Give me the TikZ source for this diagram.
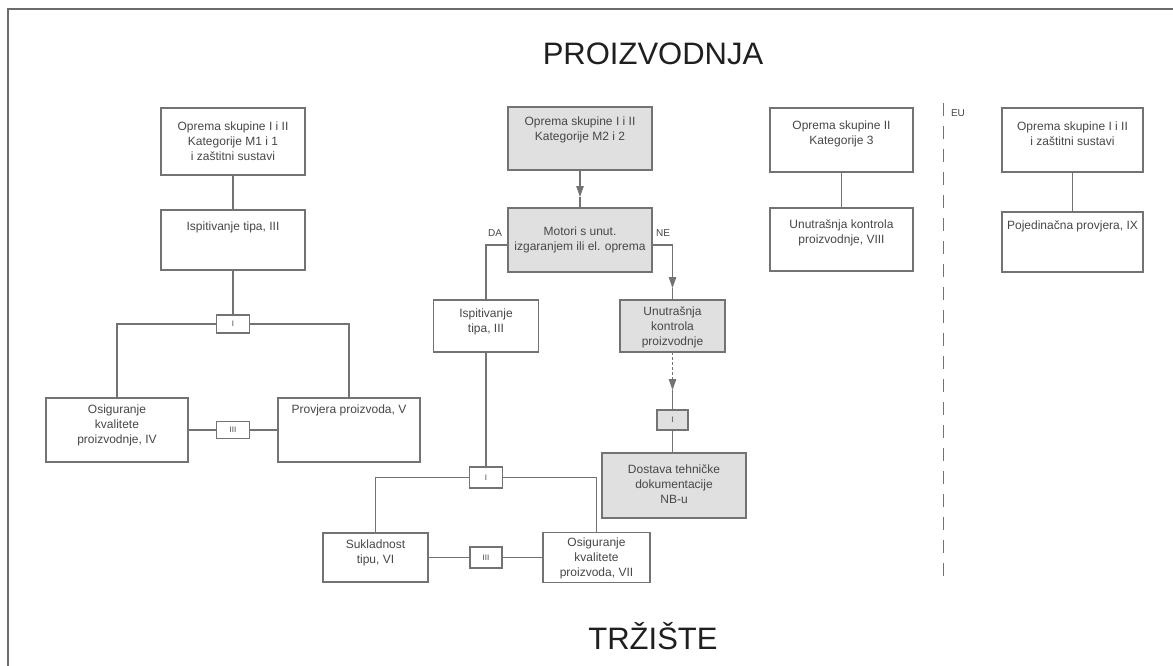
\documentclass[tikz,border=0pt]{standalone}
\usepackage{fontspec}
\setmainfont{Liberation Sans}
\usetikzlibrary{arrows.meta}
\definecolor{ln}{gray}{0.45}
\definecolor{fillg}{gray}{0.88}
\definecolor{txtc}{gray}{0.28}
\begin{document}
\begin{tikzpicture}[x=1pt,y=-1pt,
  box/.style={draw=ln,line width=1.1pt,inner sep=0pt,outer sep=0pt},
  gbox/.style={box,fill=fillg},
  tag/.style={box,text=txtc,font=\fontsize{8}{9}\selectfont},
  gtag/.style={tag,fill=fillg},
  txt/.style={text=txtc,align=center,inner sep=0pt,font=\fontsize{12}{15}\selectfont},
  conn/.style={draw=ln,line width=1.1pt},
  arr/.style={conn,-{Triangle[width=7.5pt,length=11pt]}},
  title/.style={text=black!88,inner sep=0pt,font=\fontsize{31}{36}\selectfont},
  lbl/.style={text=txtc,inner sep=0pt,font=\fontsize{10}{12}\selectfont}
]
\useasboundingbox[fill=white] (0,0) rectangle (1173,666);
% frame
\coordinate (fbl) at (7.5,666);
\coordinate (ftl) at (7.5,9);
\coordinate (ftr) at (1173,9);
\draw[draw=gray!85!black,line width=2pt] (fbl) -- (ftl) -- (ftr);
% titles
\node[title] (top) at (653,54) {PROIZVODNJA};
\node[title] (bot) at (653,636) {TRŽIŠTE};
% left column
\node[box,minimum width=144pt,minimum height=67pt] (A) at (233,141.5) {};
\node[txt] (tA) at (233,141.5) {Oprema skupine I i II\\Kategorije M1 i 1\\i zaštitni sustavi};
\node[box,minimum width=144pt,minimum height=60pt] (B) at (233,240) {};
\node[txt] (tB) at (233,227) {Ispitivanje tipa, III};
\node[tag,minimum width=33pt,minimum height=18pt] (I1) at (233,324) {I};
\node[box,minimum width=142pt,minimum height=64pt] (IV) at (117,430) {};
\node[txt] (tIV) at (117,425) {Osiguranje\\kvalitete\\proizvodnje, IV};
\node[box,minimum width=142pt,minimum height=64pt] (V) at (349,430) {};
\node[txt] (tV) at (349,410) {Provjera proizvoda, V};
\node[tag,minimum width=33pt,minimum height=17pt] (III1) at (233,430) {III};
\draw[conn] (A.south) -- (B.north);
\draw[conn] (B.south) -- (I1.north);
\draw[conn] (I1.west) -| (IV.north);
\draw[conn] (I1.east) -| (V.north);
\draw[conn] (IV.east) -- (III1.west);
\draw[conn] (III1.east) -- (V.west);
% middle column
\node[gbox,minimum width=144pt,minimum height=63pt] (C) at (580,138.5) {};
\node[txt] (tC) at (580,130) {Oprema skupine I i II\\Kategorije M2 i 2};
\node[gbox,minimum width=144pt,minimum height=64pt] (D) at (580,240) {};
\node[txt] (tD) at (580,239.5) {Motori s unut.\\izgaranjem ili el. oprema};
\node[box,minimum width=105pt,minimum height=52pt] (IIIb) at (486,326) {};
\node[txt] (tIIIb) at (486,322) {Ispitivanje\\tipa, III};
\node[gbox,minimum width=105pt,minimum height=52pt] (UK) at (672.5,326) {};
\node[txt] (tUK) at (672.5,327) {Unutrašnja\\kontrola\\proizvodnje};
\node[gtag,minimum width=31pt,minimum height=20pt] (I2) at (672.5,420) {I};
\node[gbox,minimum width=144pt,minimum height=65pt] (Dost) at (674,485.5) {};
\node[txt] (tDost) at (674,484.5) {Dostava tehničke\\dokumentacije\\NB-u};
\node[tag,minimum width=33pt,minimum height=21pt] (I3) at (486,477.5) {I};
\node[box,minimum width=105pt,minimum height=49pt] (Suk) at (375.5,557.5) {};
\node[txt] (tSuk) at (375.5,552.5) {Sukladnost\\tipu, VI};
\node[box,minimum width=107pt,minimum height=50pt] (VII) at (596.5,557.5) {};
\node[txt] (tVII) at (596.5,558) {Osiguranje\\kvalitete\\proizvoda, VII};
\node[tag,minimum width=32pt,minimum height=21pt] (III2) at (486,557.5) {III};
\node[lbl] (DA) at (495,233) {DA};
\node[lbl] (NE) at (663,233) {NE};
\coordinate (tip1) at (580,197);
\coordinate (tip2) at (672.5,288);
\coordinate (tip3) at (672.5,390);
\draw[arr] (C.south) -- (tip1);
\draw[conn] (tip1) -- (D.north);
\draw[conn] ([yshift=-5pt]D.west) -| (IIIb.north);
\draw[arr] ([yshift=-5pt]D.east) -| (tip2);
\draw[conn] (tip2) -- (UK.north);
\draw[arr,dash pattern=on 3pt off 2pt] (UK.south) -- (tip3);
\draw[conn] (tip3) -- (I2.north);
\draw[conn] (I2.south) -- (I2.south |- Dost.north);
\draw[conn] (IIIb.south) -- (I3.north);
\draw[conn] (I3.west) -| (Suk.north);
\draw[conn] (I3.east) -| (VII.north);
\draw[conn] (Suk.east) -- (III2.west);
\draw[conn] (III2.east) -- (VII.west);
% right columns
\node[box,minimum width=143pt,minimum height=64pt] (E) at (841.5,140) {};
\node[txt] (tE) at (841.5,133.5) {Oprema skupine II\\Kategorije 3};
\node[box,minimum width=143pt,minimum height=63pt] (F) at (841.5,239.5) {};
\node[txt] (tF) at (841.5,232.5) {Unutrašnja kontrola\\proizvodnje, VIII};
\node[box,minimum width=141pt,minimum height=64pt] (G) at (1072.5,140) {};
\node[txt] (tG) at (1072.5,133.5) {Oprema skupine I i II\\i zaštitni sustavi};
\node[box,minimum width=141pt,minimum height=60pt] (H) at (1072.5,242) {};
\node[txt] (tH) at (1072.5,226) {Pojedinačna provjera, IX};
\draw[conn] (E.south) -- (F.north);
\draw[conn] (G.south) -- (H.north);
% EU divider
\coordinate (eu1) at (943,103);
\coordinate (eu2) at (943,586);
\draw[conn,line width=1pt,dash pattern=on 13pt off 10pt] (eu1) -- (eu2);
\node[lbl] (EU) at (958,113) {EU};
\end{tikzpicture}
\end{document}
